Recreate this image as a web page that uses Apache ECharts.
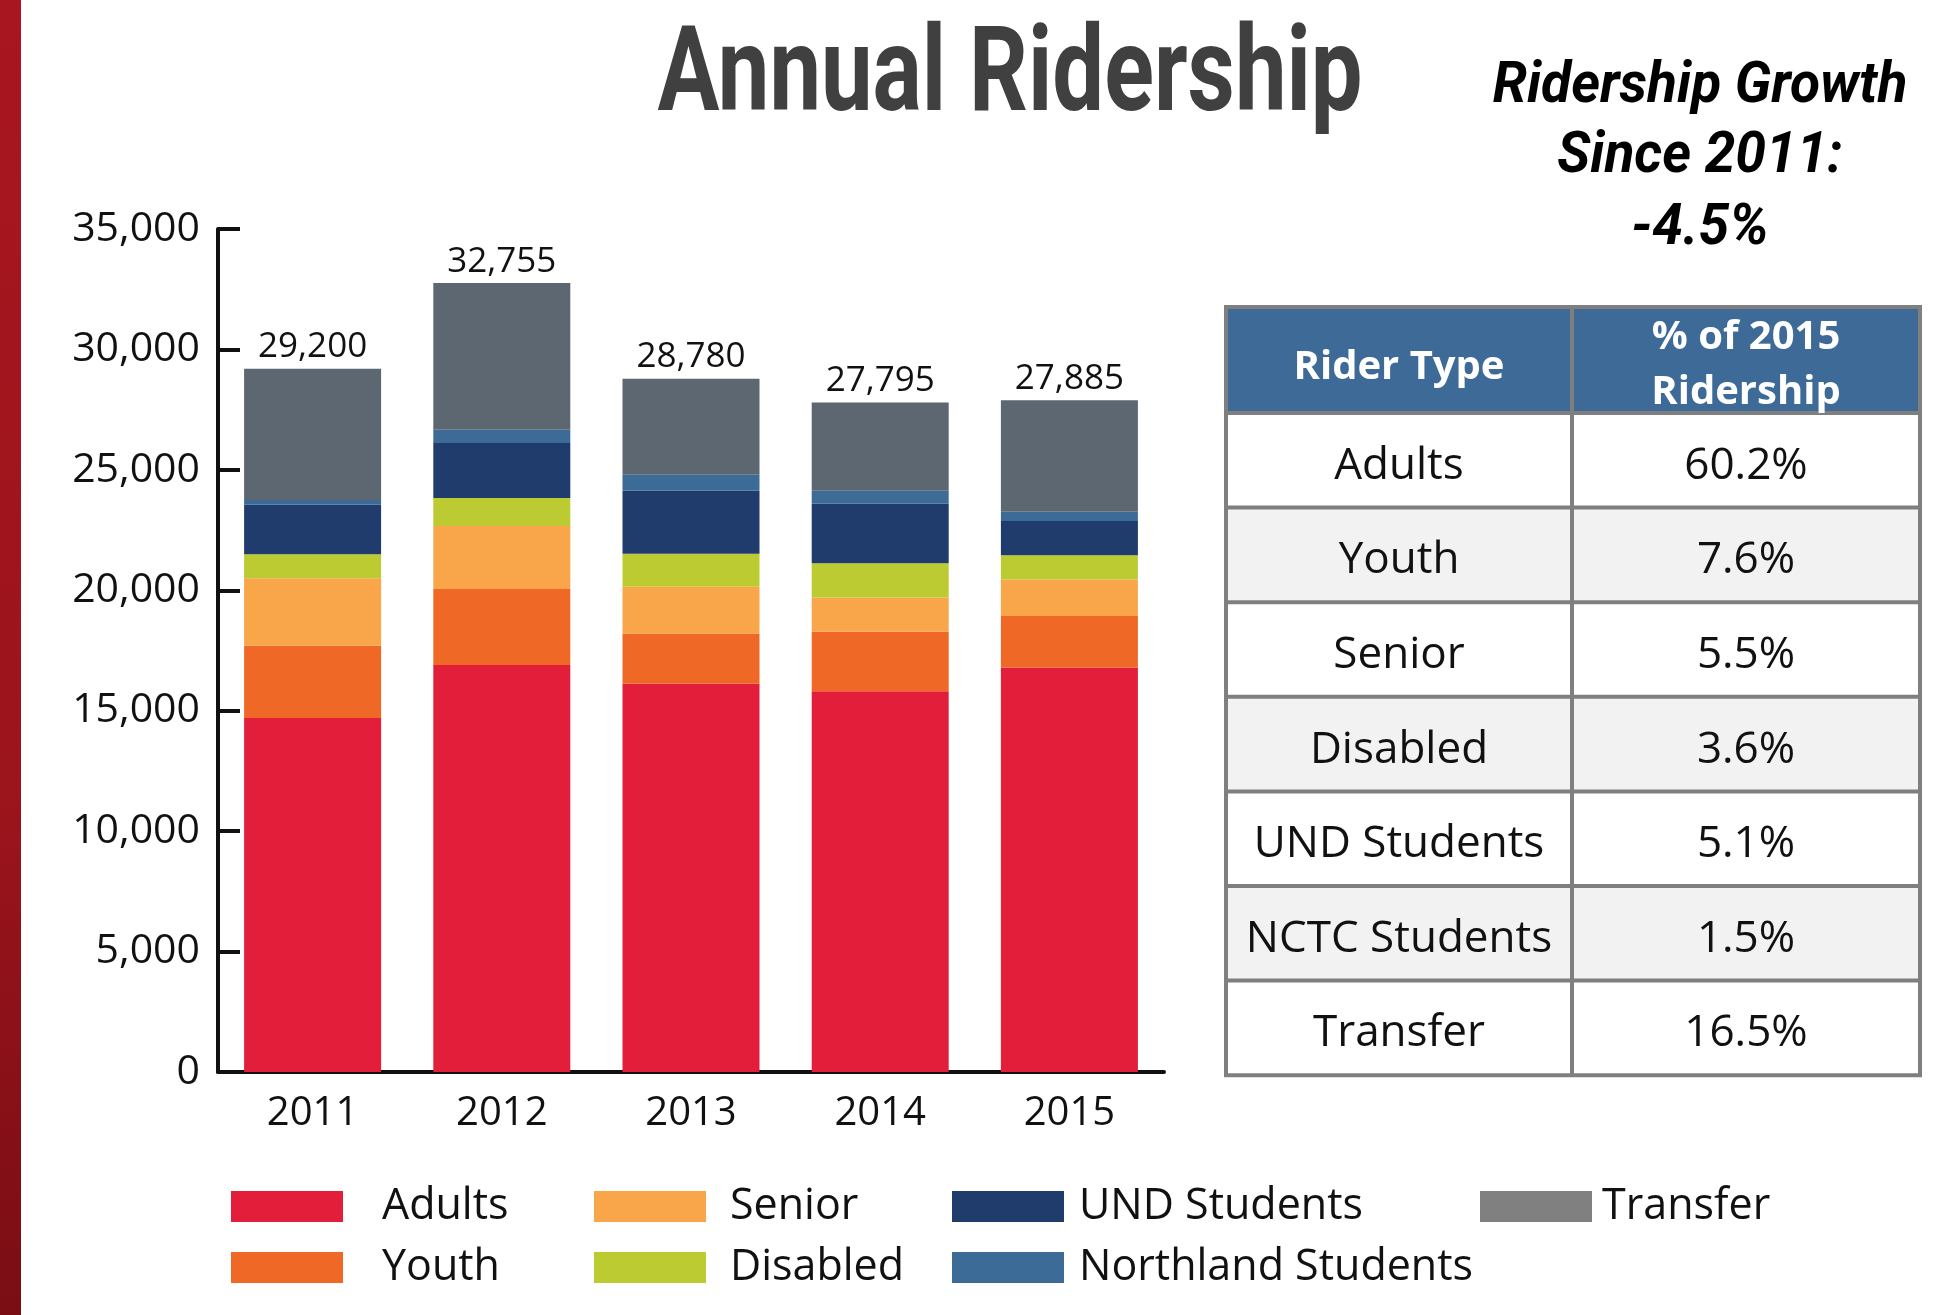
<!DOCTYPE html>
<html lang="en">
<head>
<meta charset="UTF-8">
<title>Annual Ridership</title>
<script src="https://cdn.jsdelivr.net/npm/echarts@6/dist/echarts.min.js"></script>
<style>
    html, body { margin: 0; padding: 0; background: #fff; }
    #main { width: 1938px; height: 1315px; }
</style>
</head>
<body>
<div id="main"></div>
<script>
    // chart data
    const years = ['2011', '2012', '2013', '2014', '2015'];
    const adults = [14700, 16900, 16120, 15810, 16790];
    const youth = [3000, 3150, 2090, 2470, 2140];
    const senior = [2800, 2620, 1940, 1420, 1520];
    const disabled = [1000, 1160, 1370, 1420, 1000];
    const undStudents = [2050, 2290, 2610, 2470, 1430];
    const northland = [200, 550, 670, 540, 380];
    const transfer = [5450, 6085, 3980, 3665, 4625];
    const totals = [29200, 32755, 28780, 27795, 27885];

    // side table
    const riderTypes = ['Adults', 'Youth', 'Senior', 'Disabled', 'UND Students', 'NCTC Students', 'Transfer'];
    const pct2015 = ['60.2%', '7.6%', '5.5%', '3.6%', '5.1%', '1.5%', '16.5%'];

    const FONT = '"Open Sans", Lato, sans-serif';
    const chart = echarts.init(document.getElementById('main'));

    const seriesDefs = [
        { name: 'Adults', data: adults, color: '#e21e3a' },
        { name: 'Youth', data: youth, color: '#f06826' },
        { name: 'Senior', data: senior, color: '#f9a64a' },
        { name: 'Disabled', data: disabled, color: '#bccb31' },
        { name: 'UND Students', data: undStudents, color: '#1f3c6d' },
        { name: 'Northland Students', data: northland, color: '#3c6b97' },
        { name: 'Transfer', data: transfer, color: '#5d6771' }
    ];

    const series = seriesDefs.map((s, i) => {
        const item = {
            name: s.name,
            type: 'bar',
            stack: 'total',
            barWidth: 137,
            data: s.data,
            itemStyle: { color: s.color },
            emphasis: { disabled: true }
        };
        if (i === seriesDefs.length - 1) {
            // totals on top of the stack
            item.label = {
                show: true,
                position: 'top',
                distance: 4,
                color: '#111',
                fontFamily: FONT,
                fontSize: 35,
                formatter: p => totals[p.dataIndex].toLocaleString('en-US')
            };
        }
        return item;
    });

    function legendCol(left, names, gap) {
        return {
            orient: 'vertical',
            left: left,
            top: 1185,
            padding: 0,
            itemWidth: 112,
            itemHeight: 31,
            itemGap: 18,
            selectedMode: false,
            icon: 'rect',
            data: names,
            textStyle: {
                fontFamily: FONT,
                fontSize: 43,
                color: '#111',
                padding: [0, 0, 0, gap]
            }
        };
    }

    // table built with graphic elements
    const tL = 1226, tM = 1572, tR = 1920, tTop = 307, tHead = 413, rowH = 94.6;
    const tableEls = [];
    const cellText = (text, x, y, size, bold, color) => ({
        type: 'text', x: x, y: y,
        style: {
            text: text, textAlign: 'center', textVerticalAlign: 'middle', align: 'center', verticalAlign: 'middle',
            fontFamily: FONT, fontWeight: bold ? 'bold' : 'normal', fontSize: size, fill: color
        }
    });
    tableEls.push({ type: 'rect', shape: { x: tL, y: tTop, width: tR - tL, height: tHead - tTop }, style: { fill: '#3d6a96' } });
    riderTypes.forEach((t, i) => {
        const y0 = tHead + i * rowH;
        tableEls.push({ type: 'rect', shape: { x: tL, y: y0, width: tR - tL, height: rowH }, style: { fill: i % 2 ? '#f2f2f2' : '#ffffff' } });
        tableEls.push(cellText(t, (tL + tM) / 2, y0 + rowH / 2 + 6, 44, false, '#111'));
        tableEls.push(cellText(pct2015[i], (tM + tR) / 2, y0 + rowH / 2 + 6, 44, false, '#111'));
    });
    const tBottom = tHead + riderTypes.length * rowH;
    const lineStyle = { stroke: '#7f7f7f', lineWidth: 4 };
    [tTop, tHead].concat(riderTypes.map((t, i) => tHead + (i + 1) * rowH)).forEach(y => {
        tableEls.push({ type: 'line', shape: { x1: tL - 2, y1: y, x2: tR + 2, y2: y }, style: lineStyle });
    });
    [tL, tM, tR].forEach(x => {
        tableEls.push({ type: 'line', shape: { x1: x, y1: tTop, x2: x, y2: tBottom }, style: lineStyle });
    });
    tableEls.push(cellText('Rider Type', (tL + tM) / 2, 368, 40, true, '#fff'));
    tableEls.push(cellText('% of 2015', (tM + tR) / 2, 338, 40, true, '#fff'));
    tableEls.push(cellText('Ridership', (tM + tR) / 2, 393, 40, true, '#fff'));

    function headText(text, x, y, size, scaleX, color, italic) {
        return {
            type: 'text', x: x, y: y, scaleX: scaleX,
            style: {
                text: text, textAlign: 'center', textVerticalAlign: 'middle', align: 'center', verticalAlign: 'middle',
                fontFamily: 'Roboto, sans-serif', fontWeight: 'bold', fontStyle: italic ? 'italic' : 'normal',
                fontSize: size, fill: color
            }
        };
    }

    const option = {
        backgroundColor: '#fff',
        animation: false,
        grid: { left: 218, right: 774, top: 229, bottom: 243, containLabel: false },
        legend: [
            legendCol(231, ['Adults', 'Youth'], 34),
            legendCol(594, ['Senior', 'Disabled'], 19),
            legendCol(952, ['UND Students', 'Northland Students'], 10),
            legendCol(1480, [{ name: 'Transfer', itemStyle: { color: '#808080' } }], 5)
        ],
        xAxis: {
            type: 'category',
            data: years,
            axisLine: { lineStyle: { color: '#111', width: 4 } },
            axisTick: { inside: true, length: 20, lineStyle: { color: '#111', width: 4 } },
            axisLabel: { color: '#111', fontFamily: FONT, fontSize: 40, margin: 22 }
        },
        yAxis: {
            type: 'value',
            min: 0,
            max: 35000,
            interval: 5000,
            splitLine: { show: false },
            axisLine: { show: true, lineStyle: { color: '#111', width: 4 } },
            axisTick: { show: true, inside: true, length: 22, lineStyle: { color: '#111', width: 4 } },
            axisLabel: {
                color: '#111', fontFamily: FONT, fontSize: 41, margin: 18,
                formatter: v => v.toLocaleString('en-US')
            }
        },
        series: series,
        graphic: [
            {
                type: 'rect', shape: { x: 0, y: 0, width: 21, height: 1315 },
                style: { fill: new echarts.graphic.LinearGradient(0, 0, 0, 1, [
                    { offset: 0, color: '#a8161f' }, { offset: 0.6, color: '#9c141c' }, { offset: 1, color: '#7a0d14' }
                ]) }
            },
            headText('Annual Ridership', 1010, 80, 118, 0.78, '#404040', false),
            headText('Ridership Growth', 1700, 87, 58, 0.95, '#000', true),
            headText('Since 2011:', 1700, 157, 58, 0.95, '#000', true),
            headText('-4.5%', 1700, 229, 58, 0.95, '#000', true)
        ].concat(tableEls)
    };

    chart.setOption(option);
</script>
</body>
</html>
